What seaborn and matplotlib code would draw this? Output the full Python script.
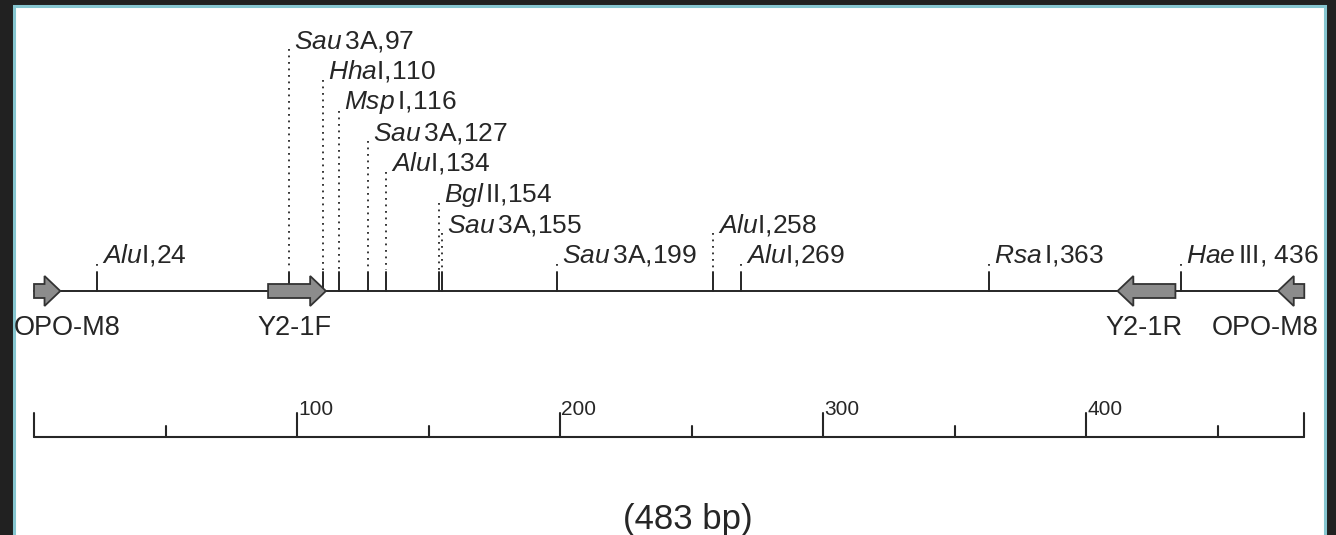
import matplotlib
matplotlib.use("Agg")
import matplotlib.pyplot as plt
from matplotlib.patches import FancyArrow, Rectangle
import seaborn as sns
import pandas as pd

# ---- map data -------------------------------------------------------------
amplicon_bp = 483

site_names = ["AluI", "Sau3A", "HhaI", "MspI", "Sau3A", "AluI", "BglII",
              "Sau3A", "Sau3A", "AluI", "AluI", "RsaI", "HaeIII"]
site_pos = [24, 97, 110, 116, 127, 134, 154, 155, 199, 258, 269, 363, 436]
site_tier = [0, 7, 6, 5, 4, 3, 2, 1, 0, 1, 0, 0, 0]

primer_names = ["OPO-M8", "Y2-1F", "Y2-1R", "OPO-M8"]
primer_tail = [0, 89, 434, 483]
primer_tip = [10, 111, 412, 473]

scale_major = [0, 100, 200, 300, 400, 483]
scale_minor = [50, 150, 250, 350, 450]
scale_labels = ["", "100", "200", "300", "400", ""]

# ---- style ----------------------------------------------------------------
sns.set_theme(style="white")
plt.rcParams["font.family"] = ["Liberation Sans", "DejaVu Sans"]
plt.rcParams["mathtext.fontset"] = "custom"
plt.rcParams["mathtext.rm"] = "Liberation Sans"
plt.rcParams["mathtext.it"] = "Liberation Sans:italic"

INK = "#262626"
W, H = 1336, 535
PX_PER_BP = 2.63
X0 = 34  # pixel column of position 0

# vertical layout (pixel rows from the top)
Y_MAP = 291
Y_TICK_TOP = 272
Y_TIER0 = 263
TIER_STEP = 30.7
Y_PRIMER_LABEL = 335
Y_SCALE = 437
MAJOR_LEN, MINOR_LEN = 24, 11

fig = plt.figure(figsize=(W / 100, H / 100), dpi=100, facecolor="#212121")
ax = fig.add_axes([0, 0, 1, 1])
ax.set_xlim(-X0 / PX_PER_BP, (W - X0) / PX_PER_BP)
ax.set_ylim(H, 0)
ax.axis("off")

# white panel with a teal rule
ax.add_patch(Rectangle((13.5 / W, -0.05), (1324.5 - 13.5) / W, 1.05 - 6.5 / H,
                       transform=ax.transAxes, facecolor="white",
                       edgecolor="#86c6d0", lw=2.2, zorder=0, clip_on=False))

# backbone
backbone = pd.DataFrame({"bp": [0, amplicon_bp], "y": [Y_MAP, Y_MAP]})
sns.lineplot(data=backbone, x="bp", y="y", ax=ax, color=INK, lw=1.4,
             legend=False, zorder=2)

# restriction sites: solid tick, dotted leader, label
tight = {"AluI", "HhaI"}
for name, pos, tier in zip(site_names, site_pos, site_tier):
    y_lab = Y_TIER0 - tier * TIER_STEP
    ax.plot([pos, pos], [Y_MAP, Y_TICK_TOP], color=INK, lw=1.4, zorder=2)
    ax.plot([pos, pos], [y_lab + 1, Y_TICK_TOP - 2], color=INK, lw=1.3,
            linestyle=(0, (1, 2.6)), zorder=2)
    gap = "" if name in tight else r"\,"
    sep = ", " if name == "HaeIII" else ","
    label = rf"$\mathit{{{name[:3]}}}{gap}$" + name[3:] + sep + str(pos)
    ax.annotate(label, xy=(pos, y_lab), xytext=(5, 0),
                textcoords="offset pixels", ha="left", va="baseline",
                fontsize=19, color=INK)

# primer arrows
n_primers = len(primer_names)
for i, (name, tail, tip) in enumerate(zip(primer_names, primer_tail, primer_tip)):
    ax.add_patch(FancyArrow(tail, Y_MAP, tip - tail, 0, width=14,
                            head_width=30, head_length=6,
                            length_includes_head=True, facecolor="#8c8c8c",
                            edgecolor="#333333", lw=1.3, zorder=3))
    if i == 0:
        xy, dx, ha = (min(tail, tip), Y_PRIMER_LABEL), -20, "left"
    elif i == n_primers - 1:
        xy, dx, ha = (max(tail, tip), Y_PRIMER_LABEL), 14, "right"
    else:
        xy, dx, ha = ((tail + tip) / 2, Y_PRIMER_LABEL), -3, "center"
    ax.annotate(name, xy=xy, xytext=(dx, 0), textcoords="offset pixels",
                ha=ha, va="baseline", fontsize=19.5, color=INK)

# scale bar
ax.plot([0, amplicon_bp], [Y_SCALE, Y_SCALE], color=INK, lw=1.5)
for t, lab in zip(scale_major, scale_labels):
    ax.plot([t, t], [Y_SCALE, Y_SCALE - MAJOR_LEN], color=INK, lw=1.5)
    if lab:
        ax.annotate(lab, xy=(t, Y_SCALE - MAJOR_LEN + 2), xytext=(1, 0),
                    textcoords="offset pixels", ha="left", va="baseline",
                    fontsize=15, color=INK)
for t in scale_minor:
    ax.plot([t, t], [Y_SCALE, Y_SCALE - MINOR_LEN], color=INK, lw=1.5)

ax.text(amplicon_bp / 2 + 7, 529, f"({amplicon_bp} bp)", ha="center",
        va="baseline", fontsize=25, color=INK)

fig.savefig("out.png", dpi=100, facecolor=fig.get_facecolor())
